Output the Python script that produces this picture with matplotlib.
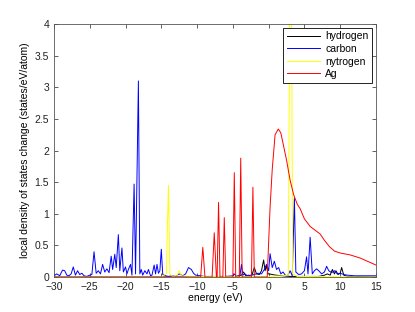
import matplotlib
matplotlib.use("Agg")
import matplotlib.pyplot as plt

# hydrogen
h_energy = [-30, -5, -4.5, -3.8, -3.5, -3.2, -2.8, -2.4, -2.0, -1.7, -1.3, -1.0, -0.7, -0.5, -0.3, -0.1,
            0.1, 0.5, 1.0, 2.0, 3.0, 4.0, 5.0, 6.0, 7.0, 7.8, 8.2, 8.6, 8.9, 9.2, 9.4, 9.7, 10.0, 10.2,
            10.5, 11.0, 12.0, 15.0]
h_dos = [0, 0, 0.01, 0.03, 0.08, 0.02, 0.03, 0.01, 0.15, 0.05, 0.04, 0.10, 0.27, 0.10, 0.18, 0.05,
         0.05, 0.04, 0.03, 0.02, 0.01, 0.01, 0.01, 0.01, 0.01, 0.03, 0.05, 0.03, 0.12, 0.05, 0.10, 0.04,
         0.06, 0.15, 0.03, 0.01, 0.01, 0.0]

# carbon
c_energy = [-30.0, -29.6, -29.2, -28.8, -28.5, -28.2, -27.9, -27.6, -27.3, -27.0, -26.7, -26.4, -26.1,
            -25.8, -25.4, -25.0, -24.7, -24.4, -24.1, -23.8, -23.5, -23.2, -22.9, -22.6, -22.3, -22.0,
            -21.8, -21.5, -21.3, -21.0, -20.8, -20.5, -20.3, -20.0, -19.8, -19.6, -19.3, -19.1, -18.8,
            -18.6, -18.2, -18.0, -17.8, -17.6, -17.3, -17.0, -16.8, -16.5, -16.3, -16.0, -15.8, -15.6,
            -15.4, -15.2, -15.0, -14.8, -14.4, -14.0, -13.5, -13.0, -12.5, -12.0, -11.6, -11.2, -10.8,
            -10.5, -10.2, -9.5, -9.0, -8.0, -7.0, -6.0, -5.0, -4.8, -4.5, -4.0, -3.8, -3.6, -3.3, -3.0,
            -2.5, -2.0, -1.5, -1.0, -0.6, -0.3, 0.0, 0.2, 0.5, 0.8, 1.1, 1.4, 1.7, 2.0, 2.4, 2.7, 3.0,
            3.3, 3.6, 3.8, 4.2, 4.6, 5.0, 5.3, 5.5, 5.8, 6.1, 6.4, 6.7, 7.0, 7.4, 7.8, 8.1, 8.4, 8.8,
            9.2, 9.6, 10.0, 10.5, 11.0, 12.0, 13.0, 15.0]
c_dos = [0.02, 0.05, 0.02, 0.11, 0.10, 0.03, 0.02, 0.05, 0.16, 0.03, 0.10, 0.04, 0.06,
         0.02, 0.01, 0.03, 0.04, 0.40, 0.06, 0.10, 0.05, 0.20, 0.08, 0.13, 0.07, 0.33,
         0.12, 0.36, 0.15, 0.67, 0.10, 0.46, 0.08, 0.16, 0.05, 0.12, 0.20, 0.03, 1.47,
         0.05, 3.10, 0.05, 0.12, 0.03, 0.10, 0.05, 0.12, 0.02, 0.03, 0.19, 0.05, 0.20,
         0.06, 0.10, 0.44, 0.04, 0.02, 0.01, 0.02, 0.01, 0.05, 0.02, 0.05, 0.15, 0.12,
         0.06, 0.03, 0.02, 0.01, 0.01, 0.01, 0.01, 0.02, 0.05, 0.01, 0.03, 0.20, 0.03, 0.05, 0.02,
         0.03, 0.04, 0.06, 0.05, 0.12, 0.20, 0.10, 0.37, 0.15, 0.25, 0.12, 0.15, 0.05, 0.08, 0.02, 0.03, 0.10,
         0.02, 1.25, 0.08, 0.04, 0.05, 0.10, 0.32, 0.05, 0.63, 0.05, 0.10, 0.13, 0.10, 0.05, 0.08, 0.17, 0.10, 0.07,
         0.10, 0.05, 0.06, 0.04, 0.03, 0.02, 0.02, 0.02]

# nytrogen
n_energy = [-30, -15, -14.6, -14.3, -14.0, -13.8, -13.4, -12.8, -12.5, -12.2, -11.0, 0.0, 2.0, 2.75,
            2.95, 3.2, 3.35, 4.0, 15.0]
n_dos = [0, 0, 0.03, 0.05, 1.45, 0.05, 0.01, 0.02, 0.10, 0.02, 0.01, 0.01, 0.02, 0.03,
         4.5, 4.5, 0.05, 0.01, 0.0]

# Ag
ag_energy = [-30, -9.5, -9.2, -8.9, -7.9, -7.6, -7.3, -7.2, -7.0, -6.8, -6.4, -6.2, -6.0, -5.0, -4.8,
             -4.6, -4.1, -3.9, -3.7, -2.4, -2.2, -2.0, -0.2, 0.2, 0.5, 0.9, 1.35, 1.7, 2.0, 2.5, 3.0,
             3.5, 4.0, 4.4, 5.0, 5.8, 6.5, 7.2, 7.8, 8.5, 9.2, 10.0, 11.4, 12.8, 14.0, 15.0]
ag_dos = [0, 0, 0.47, 0, 0, 0.70, 0, 0, 1.18, 0, 0, 0.94, 0, 0, 1.65,
          0, 0, 1.88, 0, 0, 1.42, 0, 0, 1.1, 1.7, 2.25, 2.34, 2.28, 2.12, 1.85, 1.53,
          1.3, 1.15, 1.08, 0.92, 0.80, 0.74, 0.68, 0.58, 0.48, 0.41, 0.38, 0.35, 0.30, 0.24, 0.19]

plt.rcParams['font.family'] = ['Liberation Sans', 'DejaVu Sans']
fig = plt.figure(figsize=(4.15, 3.12), dpi=100)
ax = fig.add_axes([0.130, 0.112, 0.776, 0.811])

ax.plot(h_energy, h_dos, color='k', lw=0.7, label='hydrogen')
ax.plot(c_energy, c_dos, color='#0000ff', lw=0.7, label='carbon')
ax.plot(n_energy, n_dos, color='#ffff00', lw=0.7, label='nytrogen')
ax.plot(ag_energy, ag_dos, color='#ff0000', lw=0.7, label='Ag')

ax.set_xlim(-30, 15)
ax.set_ylim(0, 4)
ax.set_xticks(range(-30, 16, 5))
ax.set_yticks([0, 0.5, 1, 1.5, 2, 2.5, 3, 3.5, 4])
ax.set_yticklabels(['0', '0.5', '1', '1.5', '2', '2.5', '3', '3.5', '4'])
ax.tick_params(direction='in', top=True, right=True, labelsize=7.5, length=3, width=0.5, colors='#222222')
for s in ax.spines.values():
    s.set_linewidth(0.6)
    s.set_color('#555555')
ax.set_xlabel('energy (eV)', fontsize=7.5, labelpad=1)
ax.set_ylabel('local density of states change (states/eV/atom)', fontsize=7.5, labelpad=3)

leg = ax.legend(loc='upper right', fontsize=7.5, fancybox=False, framealpha=1, edgecolor='k',
                borderaxespad=0.35, handlelength=3.2, borderpad=0.35, labelspacing=0.25, handletextpad=0.5)
leg.get_frame().set_linewidth(0.6)

fig.savefig('out.png', dpi=100)
